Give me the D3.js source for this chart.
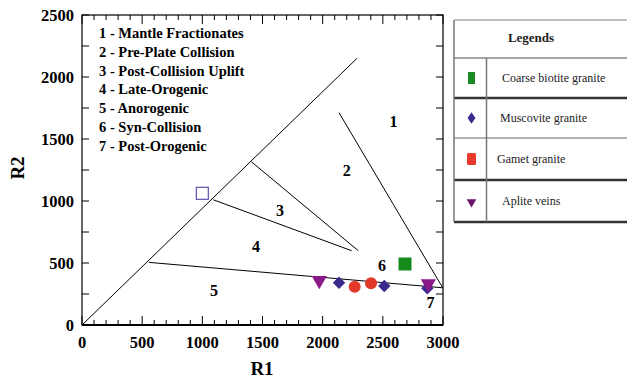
<!DOCTYPE html>
<html>
<head>
<meta charset="utf-8">
<script src="https://cdn.jsdelivr.net/npm/d3@7"></script>
<style>
  body { margin: 0; background: #fff; }
  svg { display: block; }
  text { font-family: "Liberation Serif", "Times New Roman", serif; }
</style>
</head>
<body>
<div id="chart"></div>
<script>
// R1-R2 discrimination diagram data
var xTicks = [0, 500, 1000, 1500, 2000, 2500, 3000];
var yTicks = [0, 500, 1000, 1500, 2000, 2500];
var fieldNames = ['1 - Mantle Fractionates', '2 - Pre-Plate Collision', '3 - Post-Collision Uplift',
  '4 - Late-Orogenic', '5 - Anorogenic', '6 - Syn-Collision', '7 - Post-Orogenic'];
// boundary segments [r1a, r2a, r1b, r2b]
var boundaries = [
  [0, 0, 2285, 2150],
  [2136, 1712, 3000, 296],
  [1407, 1317, 2296, 599],
  [1091, 1010, 2241, 599],
  [557, 505, 3000, 300]
];
// field number labels [label, r1, r2]
var fieldLabels = [
  ['1', 2588, 1643], ['2', 2201, 1248], ['3', 1645, 927], ['4', 1446, 631],
  ['5', 1097, 282], ['6', 2494, 477], ['7', 2896, 182]
];
var coarseBiotite = [[2684, 492]];
var muscovite = [[2136, 341], [2512, 315], [2870, 296]];
var garnet = [[2266, 309], [2402, 336]];
var aplite = [[1972, 368], [2878, 341]];
var openSquare = [[1000, 1062]];
var legendItems = ['Coarse biotite granite', 'Muscovite granite', 'Gamet granite', 'Aplite veins'];

var width = 627, height = 381;
var svg = d3.select('#chart').append('svg')
  .attr('width', width)
  .attr('height', height);

var x = d3.scaleLinear().domain([0, 3000]).range([82, 443]);
var y = d3.scaleLinear().domain([0, 2500]).range([325, 15]);

// ticks, pointing inward on all four sides
var xMinor = d3.range(0, 3001, 100);
var yMinor = d3.range(0, 2501, 250);
var tickG = svg.append('g').attr('stroke', '#000').attr('stroke-width', 1);
xMinor.forEach(function (v) {
  var len = v % 500 === 0 ? 9 : 5;
  tickG.append('line').attr('x1', x(v)).attr('x2', x(v)).attr('y1', y(0)).attr('y2', y(0) - len);
  tickG.append('line').attr('x1', x(v)).attr('x2', x(v)).attr('y1', y(2500)).attr('y2', y(2500) + len);
});
yMinor.forEach(function (v) {
  var len = 7;
  tickG.append('line').attr('x1', x(0)).attr('x2', x(0) + len).attr('y1', y(v)).attr('y2', y(v));
  tickG.append('line').attr('x1', x(3000)).attr('x2', x(3000) - len).attr('y1', y(v)).attr('y2', y(v));
});

// frame
svg.append('rect')
  .attr('x', x(0)).attr('y', y(2500))
  .attr('width', x(3000) - x(0)).attr('height', y(0) - y(2500))
  .attr('fill', 'none').attr('stroke', '#000').attr('stroke-width', 1.2);
svg.append('line')
  .attr('x1', x(0)).attr('x2', x(3000)).attr('y1', y(0)).attr('y2', y(0))
  .attr('stroke', '#000').attr('stroke-width', 2);

// tick labels
svg.append('g').selectAll('text').data(xTicks).enter().append('text')
  .attr('x', function (d) { return x(d); })
  .attr('y', 348)
  .attr('text-anchor', 'middle')
  .attr('font-size', 16.5).attr('font-weight', 'bold')
  .text(function (d) { return d; });
svg.append('g').selectAll('text').data(yTicks).enter().append('text')
  .attr('x', 74)
  .attr('y', function (d) { return y(d) + 6; })
  .attr('text-anchor', 'end')
  .attr('font-size', 16.5).attr('font-weight', 'bold')
  .text(function (d) { return d; });

// axis titles
svg.append('text')
  .attr('x', 262).attr('y', 375)
  .attr('text-anchor', 'middle')
  .attr('font-size', 19).attr('font-weight', 'bold')
  .text('R1');
svg.append('text')
  .attr('transform', 'translate(24,168) rotate(-90)')
  .attr('text-anchor', 'middle')
  .attr('font-size', 19).attr('font-weight', 'bold')
  .text('R2');

// boundaries
svg.append('g').selectAll('line').data(boundaries).enter().append('line')
  .attr('x1', function (d) { return x(d[0]); })
  .attr('y1', function (d) { return y(d[1]); })
  .attr('x2', function (d) { return x(d[2]); })
  .attr('y2', function (d) { return y(d[3]); })
  .attr('stroke', '#000').attr('stroke-width', 1);

// field labels
svg.append('g').selectAll('text').data(fieldLabels).enter().append('text')
  .attr('x', function (d) { return x(d[1]); })
  .attr('y', function (d) { return y(d[2]) + 5.5; })
  .attr('text-anchor', 'middle')
  .attr('font-size', 16).attr('font-weight', 'bold')
  .text(function (d) { return d[0]; });

// field names list
svg.append('g').selectAll('text').data(fieldNames).enter().append('text')
  .attr('x', 99)
  .attr('y', function (d, i) { return 38 + i * 18.8; })
  .attr('font-size', 14.5).attr('font-weight', 'bold')
  .text(function (d) { return d; });

// samples
var pts = svg.append('g');
pts.selectAll('.osq').data(openSquare).enter().append('rect')
  .attr('x', function (d) { return x(d[0]) - 6; })
  .attr('y', function (d) { return y(d[1]) - 6; })
  .attr('width', 12).attr('height', 12)
  .attr('fill', 'none').attr('stroke', '#5b52b0').attr('stroke-width', 1.2);
pts.selectAll('.gsq').data(coarseBiotite).enter().append('rect')
  .attr('x', function (d) { return x(d[0]) - 6.5; })
  .attr('y', function (d) { return y(d[1]) - 6.5; })
  .attr('width', 13).attr('height', 13)
  .attr('fill', '#138a1c');
pts.selectAll('.dia').data(muscovite).enter().append('rect')
  .attr('x', -4.4).attr('y', -4.4).attr('width', 8.8).attr('height', 8.8)
  .attr('transform', function (d) { return 'translate(' + x(d[0]) + ',' + y(d[1]) + ') rotate(45)'; })
  .attr('fill', '#3a2a8c');
pts.selectAll('.cir').data(garnet).enter().append('circle')
  .attr('cx', function (d) { return x(d[0]); })
  .attr('cy', function (d) { return y(d[1]); })
  .attr('r', 6)
  .attr('fill', '#e2392b');
var tri = d3.symbol().type(d3.symbolTriangle).size(100);
pts.selectAll('.tri').data(aplite).enter().append('path')
  .attr('d', tri)
  .attr('transform', function (d) { return 'translate(' + x(d[0]) + ',' + (y(d[1]) + 1) + ') rotate(180)'; })
  .attr('fill', '#8a1a88');

// legend table
var lg = svg.append('g');
var rowEdges = [20, 58, 98, 138, 180, 222];
var edgeStyle = [['#aaa', 1.5], ['#888', 1.5], ['#333', 2.5], ['#999', 1.5], ['#333', 2.5], ['#333', 2.5]];
rowEdges.forEach(function (yy, i) {
  lg.append('line').attr('x1', 454).attr('x2', 627).attr('y1', yy).attr('y2', yy)
    .attr('stroke', edgeStyle[i][0]).attr('stroke-width', edgeStyle[i][1]);
});
lg.append('line').attr('x1', 454).attr('x2', 454).attr('y1', 20).attr('y2', 222)
  .attr('stroke', '#777').attr('stroke-width', 1.5);
lg.append('line').attr('x1', 486.5).attr('x2', 486.5).attr('y1', 58).attr('y2', 222)
  .attr('stroke', '#777').attr('stroke-width', 1.5);
lg.append('text').attr('x', 531).attr('y', 42)
  .attr('text-anchor', 'middle').attr('font-size', 13).attr('font-weight', 'bold')
  .attr('fill', '#222')
  .text('Legends');
var itemX = [502, 500, 497, 502];
lg.selectAll('.li').data(legendItems).enter().append('text')
  .attr('x', function (d, i) { return itemX[i]; })
  .attr('y', function (d, i) { return (rowEdges[i + 1] + rowEdges[i + 2]) / 2 + 4; })
  .attr('font-size', 12).attr('fill', '#222')
  .text(function (d) { return d; });
var cy = function (i) { return (rowEdges[i + 1] + rowEdges[i + 2]) / 2; };
lg.append('rect').attr('x', 468).attr('y', cy(0) - 6).attr('width', 7).attr('height', 12).attr('fill', '#1a8a22');
lg.append('rect').attr('x', -3.5).attr('y', -3.5).attr('width', 7).attr('height', 7)
  .attr('transform', 'translate(471.5,' + cy(1) + ') scale(0.8,1.15) rotate(45)').attr('fill', '#3a2a8c');
lg.append('rect').attr('x', 467).attr('y', cy(2) - 6).attr('width', 9).attr('height', 12).attr('rx', 1.5).attr('fill', '#e83a2c');
lg.append('path').attr('d', d3.symbol().type(d3.symbolTriangle).size(40))
  .attr('transform', 'translate(471.5,' + (cy(3) + 1) + ') rotate(180)').attr('fill', '#6a1468');
</script>
</body>
</html>
